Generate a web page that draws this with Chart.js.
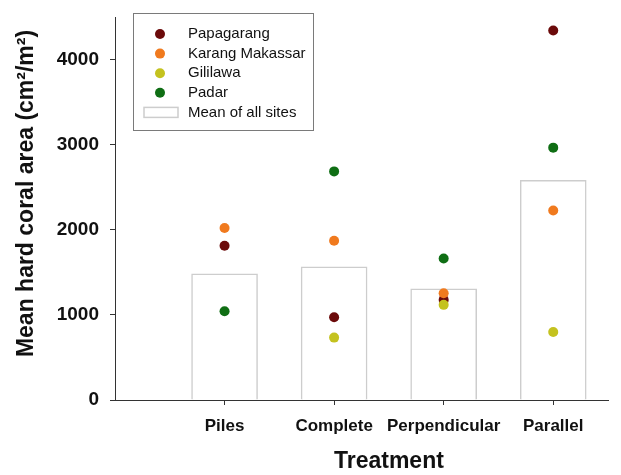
<!DOCTYPE html>
<html>
<head>
<meta charset="utf-8">
<script src="https://cdn.jsdelivr.net/npm/chart.js@4"></script>
<style>
  body { margin: 0; background: #fff; }
</style>
</head>
<body>
<canvas id="coralChart" width="621" height="475"></canvas>
<script>
const categories = ['Piles', 'Complete', 'Perpendicular', 'Parallel'];
const meanAllSites = [1482, 1565, 1306, 2580];
const papagarang = [1812, 973, 1176, 4341];
const karangMakassar = [2020, 1871, 1255, 2227];
const gililawa = [null, 733, 1118, 800];
const padar = [1043, 2686, 1663, 2965];
const yTicks = [0, 1000, 2000, 3000, 4000];

const font = '"Liberation Sans", Arial, sans-serif';

// category i sits at x = i + 1 on a linear axis running 0..4.5
const toPoints = values => values
    .map((v, i) => v == null ? null : { x: i + 1, y: v })
    .filter(p => p);

function siteSet(label, values, color, order) {
    return {
        type: 'scatter',
        label: label,
        data: toPoints(values),
        backgroundColor: color,
        borderWidth: 0,
        pointRadius: 5,
        order: order
    };
}

// boxed legend inside the plot plus the two axis titles, like the original figure
const boxLegend = {
    id: 'boxLegend',
    afterDraw(chart) {
        const ctx = chart.ctx;
        const a = chart.chartArea;
        const left = a.left + 18, top = a.top - 4;
        ctx.save();
        ctx.fillStyle = '#fff';
        ctx.fillRect(left, top, 180, 117);
        ctx.strokeStyle = '#7a7a7a';
        ctx.lineWidth = 1;
        ctx.strokeRect(left + 0.5, top + 0.5, 180, 117);
        ctx.font = '15px ' + font;
        ctx.textBaseline = 'middle';
        chart.data.datasets.forEach((ds, i) => {
            const y = top + 21 + i * 19.6;
            if (ds.type === 'scatter') {
                ctx.fillStyle = ds.backgroundColor;
                ctx.beginPath();
                ctx.arc(left + 27, y, 5, 0, Math.PI * 2);
                ctx.fill();
            } else {
                ctx.strokeStyle = ds.borderColor;
                ctx.lineWidth = 1.5;
                ctx.strokeRect(left + 11, y - 5, 34, 10);
            }
            ctx.fillStyle = '#111';
            ctx.fillText(ds.label, left + 55, y);
        });

        // x axis title, centred under the treatments
        const xs = chart.scales.x;
        const mid = (xs.getPixelForValue(1) + xs.getPixelForValue(categories.length)) / 2;
        ctx.font = 'bold 23px ' + font;
        ctx.textAlign = 'center';
        ctx.fillText('Treatment', mid, 462);

        // y axis title, sits a little above the middle of the axis
        ctx.translate(27, (a.top + a.bottom) / 2 - 15);
        ctx.rotate(-Math.PI / 2);
        ctx.font = 'bold 23px ' + font;
        ctx.fillText('Mean hard coral area (cm²/m²)', 0, 0);
        ctx.restore();
    }
};

const ctx = document.getElementById('coralChart').getContext('2d');
const coralChart = new Chart(ctx, {
    type: 'bar',
    data: {
        datasets: [
            siteSet('Papagarang', papagarang, '#6b0a0a', 4),
            siteSet('Karang Makassar', karangMakassar, '#f07a1e', 3),
            siteSet('Gililawa', gililawa, '#c4c21f', 2),
            siteSet('Padar', padar, '#0f6e14', 1),
            {
                type: 'bar',
                label: 'Mean of all sites',
                data: meanAllSites.map((v, i) => ({ x: i + 1, y: v })),
                backgroundColor: '#fff',
                borderColor: '#cdcdcd',
                borderWidth: 1.5,
                barThickness: 66,
                order: 10
            }
        ]
    },
    options: {
        responsive: false,
        animation: false,
        layout: { padding: { top: 17, right: 13, left: 0, bottom: 0 } },
        plugins: {
            legend: { display: false },
            tooltip: { enabled: false }
        },
        scales: {
            x: {
                type: 'linear',
                offset: false,
                min: 0,
                max: 4.5,
                afterBuildTicks: s => { s.ticks = categories.map((c, i) => ({ value: i + 1 })); },
                afterFit: s => { s.height = 75; s.paddingLeft = 0; s.paddingRight = 0; },
                ticks: {
                    autoSkip: false,
                    maxRotation: 0,
                    padding: 11,
                    color: '#111',
                    font: { family: font, size: 17, weight: 'bold' },
                    callback: v => categories[v - 1]
                },
                grid: { offset: false, drawOnChartArea: false, tickLength: 5, color: '#333' },
                border: { color: '#333', width: 1 },
                title: { display: false }
            },
            y: {
                min: 0,
                max: 4500,
                afterBuildTicks: s => { s.ticks = yTicks.map(v => ({ value: v })); },
                afterFit: s => { s.width = 115; s.paddingTop = 0; s.paddingBottom = 0; },
                ticks: {
                    padding: 11,
                    color: '#111',
                    font: { family: font, size: 19, weight: 'bold' },
                    callback: v => String(v)
                },
                grid: { drawOnChartArea: false, tickLength: 5, color: '#333' },
                border: { color: '#333', width: 1 },
                title: { display: false }
            }
        }
    },
    plugins: [boxLegend]
});
</script>
</body>
</html>
